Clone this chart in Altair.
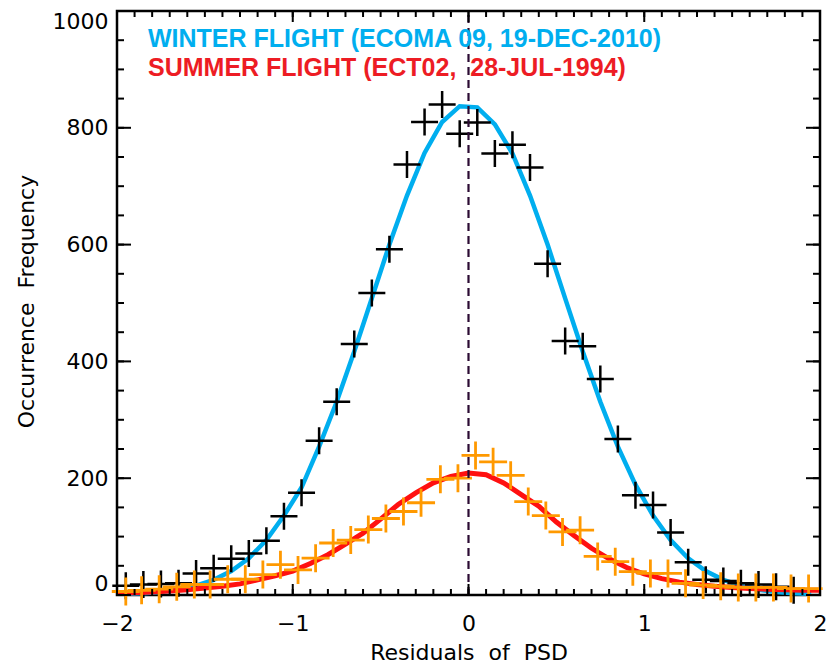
import altair as alt
import pandas as pd

# ---- data ----
winter_x = [-1.95, -1.85, -1.75, -1.65, -1.55, -1.45, -1.35, -1.25, -1.15, -1.05,
            -0.95, -0.85, -0.75, -0.65, -0.55, -0.45, -0.35, -0.25, -0.15, -0.05,
            0.05, 0.15, 0.25, 0.35, 0.45, 0.55, 0.65, 0.75, 0.85, 0.95,
            1.05, 1.15, 1.25, 1.35, 1.45, 1.55, 1.65, 1.75, 1.85]
winter_y = [16, 18, 19, 20, 37, 46, 62, 71, 93, 135,
            175, 264, 331, 430, 517, 592, 737, 810, 840, 790,
            809, 756, 771, 732, 567, 435, 426, 370, 267, 171,
            154, 107, 56, 26, 24, 20, 18, 14, 8]

summer_x = [-1.95, -1.86, -1.76, -1.66, -1.56, -1.47, -1.37, -1.27, -1.17, -1.07,
            -0.97, -0.87, -0.77, -0.67, -0.57, -0.47, -0.37, -0.27, -0.16, -0.06,
            0.04, 0.14, 0.24, 0.34, 0.44, 0.535, 0.635, 0.735, 0.835, 0.935,
            1.035, 1.135, 1.235, 1.335, 1.435, 1.535, 1.635, 1.735, 1.835, 1.935]
summer_y = [6, 8, 10, 14, 18, 18, 27, 27, 35, 52,
            43, 63, 89, 94, 112, 131, 143, 158, 198, 200,
            239, 228, 205, 160, 136, 108, 111, 66, 57, 40,
            37, 37, 20, 17, 15, 13, 13, 13, 11, 11]

fit_winter_x = [-1.95, -1.85, -1.75, -1.65, -1.55, -1.45, -1.35, -1.25, -1.15, -1.05,
                -0.95, -0.85, -0.75, -0.65, -0.55, -0.45, -0.35, -0.25, -0.15, -0.05,
                0.05, 0.15, 0.25, 0.35, 0.45, 0.55, 0.65, 0.75, 0.85, 0.95,
                1.05, 1.15, 1.25, 1.35, 1.45, 1.55, 1.65, 1.75, 1.85, 1.95]
fit_winter_y = [2, 3, 5, 9, 16, 26, 41, 63, 94, 136,
                184, 254, 331, 417, 508, 600, 684, 757, 810, 837,
                835, 806, 756, 684, 600, 508, 417, 331, 254, 189,
                136, 94, 63, 41, 26, 16, 9, 5, 3, 2]

fit_summer_x = [-2.0, -1.9, -1.8, -1.7, -1.6, -1.5, -1.4, -1.3, -1.2, -1.1,
                -1.0, -0.9, -0.8, -0.7, -0.6, -0.5, -0.4, -0.3, -0.2, -0.1,
                0.0, 0.1, 0.2, 0.3, 0.4, 0.5, 0.6, 0.7, 0.8, 0.9,
                1.0, 1.1, 1.2, 1.3, 1.4, 1.5, 1.6, 1.7, 1.8, 1.9, 2.0]
fit_summer_y = [3, 4, 5, 7, 9, 12, 15, 19, 26, 33,
                41, 54, 69, 87, 106, 130, 155, 175, 192, 203,
                209, 206, 192, 172, 152, 125, 102, 80, 62, 47,
                36, 28, 22, 18, 15, 13, 11, 10, 9, 8, 8]

x_major = [-2, -1, 0, 1, 2]
y_major = [0, 200, 400, 600, 800, 1000]
x_minor = [round(-2 + 0.1 * i, 1) for i in range(41)]
y_minor = [50 * i for i in range(21)]

winter_label = "WINTER FLIGHT (ECOMA 09, 19-DEC-2010)"
summer_label = "SUMMER FLIGHT (ECT02,\u00a0 28-JUL-1994)"
x_title = "Residuals\u00a0 of\u00a0 PSD"
y_title = "Occurrence\u00a0 Frequency"

# ---- styling ----
BLUE = "#00AEEF"
RED_TXT = "#ED1C24"
RED = "#FF1010"
ORANGE = "#FF9900"
FONT = "DejaVu Sans"
W, H = 703, 584

xscale = alt.Scale(domain=[-2, 2], nice=False, zero=False, padding=0)
yscale = alt.Scale(domain=[0, 1000], nice=False, zero=False, padding=0)

x_axis = alt.Axis(values=x_major, format="d", ticks=False, tickSize=0, domain=False,
                  grid=False, labelFont=FONT, labelFontSize=22, labelColor="black",
                  labelBaseline="alphabetic", labelPadding=35, labelFlush=False,
                  title=x_title, titleFont=FONT, titleFontSize=22, titleFontWeight="normal",
                  titleColor="black", titleX=W / 2, titleY=64, titleBaseline="alphabetic",
                  titleAlign="center")
y_axis = alt.Axis(values=y_major, format="d", ticks=False, tickSize=0, domain=False,
                  grid=False, labelFont=FONT, labelFontSize=22, labelColor="black",
                  labelPadding=9, labelFlush=True,
                  title=y_title, titleFont=FONT, titleFontSize=22, titleFontWeight="normal",
                  titleColor="black", titleX=-84, titleY=H / 2 - 2, titleAngle=270,
                  titleBaseline="alphabetic", titleAlign="center")


def X(field):
    return alt.X(field, type="quantitative", scale=xscale, axis=x_axis)


def Y(field):
    return alt.Y(field, type="quantitative", scale=yscale, axis=y_axis)


winter_df = pd.DataFrame({"x": winter_x, "y": winter_y})
summer_df = pd.DataFrame({"x": summer_x, "y": summer_y})
fitw_df = pd.DataFrame({"x": fit_winter_x, "y": fit_winter_y})
fits_df = pd.DataFrame({"x": fit_summer_x, "y": fit_summer_y})

CROSS = "M-1,0L1,0M0,-1L0,1"

blue_line = alt.Chart(fitw_df).mark_line(color=BLUE, strokeWidth=4.5).encode(x=X("x"), y=Y("y"))
black_pts = alt.Chart(winter_df).mark_point(shape=CROSS, size=729, filled=False,
                                            color="black", strokeWidth=2.5, opacity=1).encode(x=X("x"), y=Y("y"))
red_line = alt.Chart(fits_df).mark_line(color=RED, strokeWidth=5).encode(x=X("x"), y=Y("y"))
orange_pts = alt.Chart(summer_df).mark_point(shape=CROSS, size=784, filled=False,
                                             color=ORANGE, strokeWidth=2.8, opacity=1).encode(x=X("x"), y=Y("y"))

zero_df = pd.DataFrame({"x": [0], "y": [0], "y2": [1000]})
zero_line = alt.Chart(zero_df).mark_rule(color="#2B0B33", strokeWidth=2.2,
                                         strokeDash=[8, 5]).encode(x=X("x"), y=Y("y"), y2="y2")

# inward ticks on all four sides
xmaj_df = pd.DataFrame({"x": x_major})
xmin_df = pd.DataFrame({"x": x_minor})
ymaj_df = pd.DataFrame({"y": y_major})
ymin_df = pd.DataFrame({"y": y_minor})


def xticks(df, length, at, sign):
    return alt.Chart(df).mark_tick(orient="vertical", size=length, thickness=2, color="black",
                                   yOffset=sign * length / 2, opacity=1).encode(
        x=X("x"), y=alt.Y(datum=at, type="quantitative", scale=yscale, axis=y_axis))


def yticks(df, length, at, sign):
    return alt.Chart(df).mark_tick(orient="horizontal", size=length, thickness=2, color="black",
                                   xOffset=sign * length / 2, opacity=1).encode(
        y=Y("y"), x=alt.X(datum=at, type="quantitative", scale=xscale, axis=x_axis))


ticks = [
    xticks(xmin_df, 6, 0, -1), xticks(xmaj_df, 11, 0, -1),
    xticks(xmin_df, 6, 1000, 1), xticks(xmaj_df, 11, 1000, 1),
    yticks(ymin_df, 7, -2, 1), yticks(ymaj_df, 14, -2, 1),
    yticks(ymin_df, 7, 2, -1), yticks(ymaj_df, 14, 2, -1),
]

winter_txt = alt.Chart(pd.DataFrame({"t": [winter_label]})).mark_text(
    align="left", baseline="alphabetic", font="Liberation Sans", fontSize=25, fontWeight="bold",
    color=BLUE).encode(text="t:N", x=alt.value(31), y=alt.value(36))
summer_txt = alt.Chart(pd.DataFrame({"t": [summer_label]})).mark_text(
    align="left", baseline="alphabetic", font="Liberation Sans", fontSize=25, fontWeight="bold",
    color=RED_TXT).encode(text="t:N", x=alt.value(31), y=alt.value(65))

chart = alt.layer(
    blue_line, black_pts, red_line, orange_pts, zero_line, *ticks, winter_txt, summer_txt
).properties(
    width=W, height=H,
    autosize=alt.AutoSizeParams(type="none"),
    padding={"left": 117, "top": 11, "right": 8, "bottom": 73},
    background="white",
).configure_view(stroke="black", strokeWidth=2.5)

chart.save("out.html", embed_options={"renderer": "svg", "actions": False})
